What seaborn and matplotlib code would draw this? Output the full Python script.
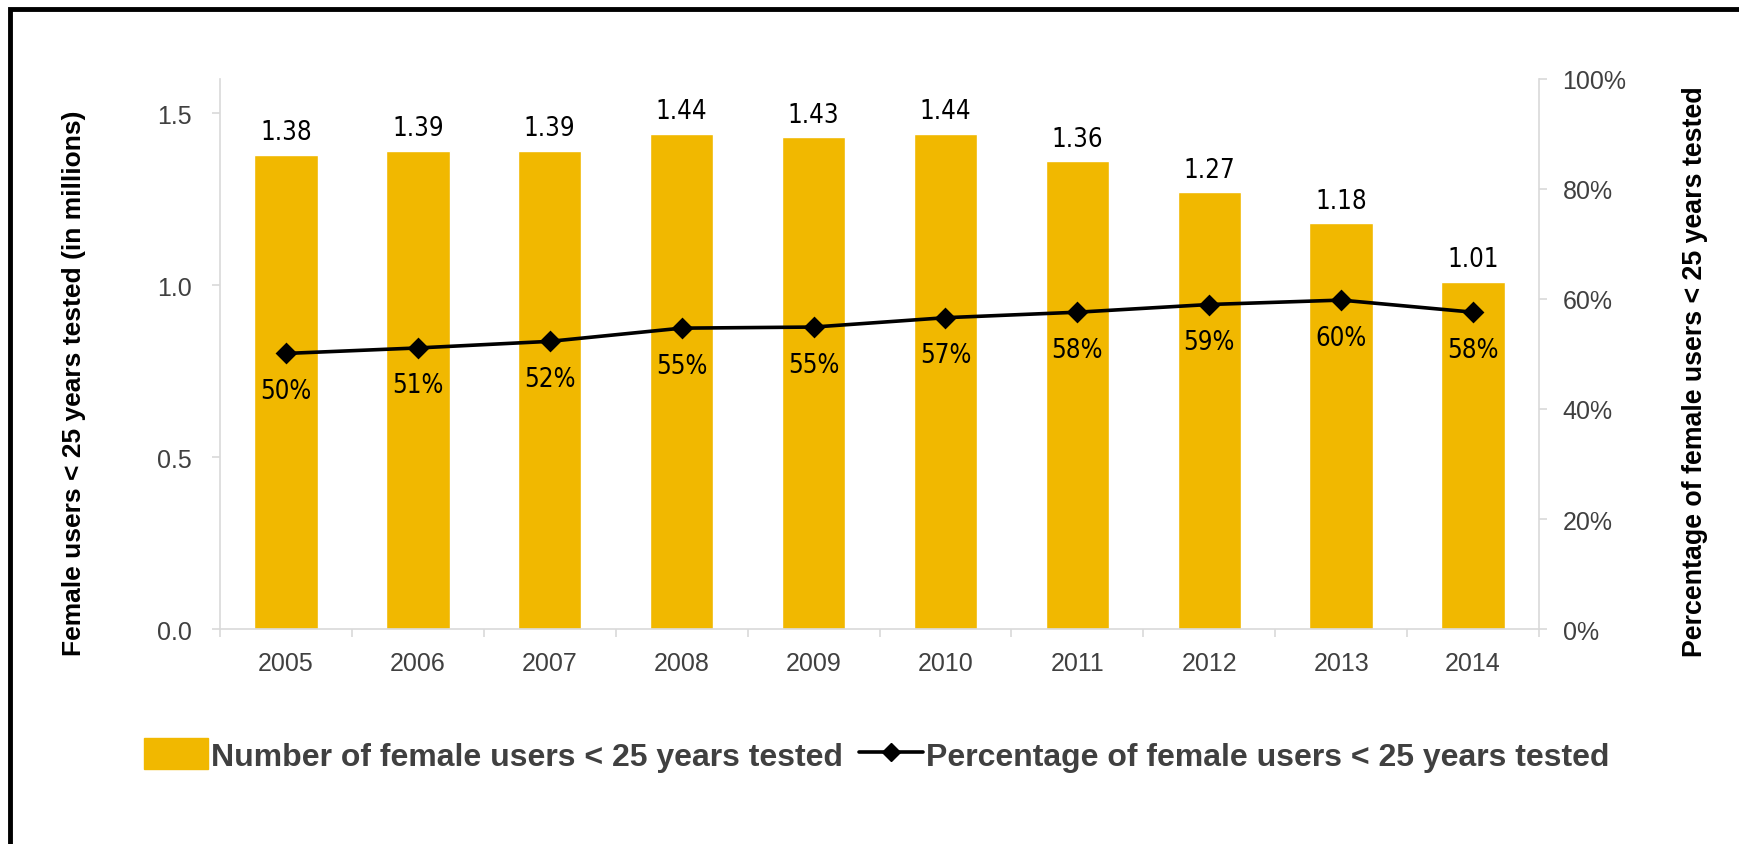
import numpy as np
import pandas as pd
import matplotlib
matplotlib.use("Agg")
import matplotlib.pyplot as plt
import seaborn as sns
from matplotlib.patches import Rectangle
from matplotlib.lines import Line2D
from matplotlib.patches import Patch

years = ["2005", "2006", "2007", "2008", "2009", "2010", "2011", "2012", "2013", "2014"]
users_millions = [1.38, 1.39, 1.39, 1.44, 1.43, 1.44, 1.36, 1.27, 1.18, 1.01]
pct_tested = [0.501, 0.511, 0.523, 0.547, 0.549, 0.566, 0.576, 0.590, 0.598, 0.576]
pct_labels = ["50%", "51%", "52%", "55%", "55%", "57%", "58%", "59%", "60%", "58%"]
left_ticks = [0.0, 0.5, 1.0, 1.5]
right_ticks = [0.0, 0.2, 0.4, 0.6, 0.8, 1.0]

bar_label = "Number of female users < 25 years tested"
line_label = "Percentage of female users < 25 years tested"

sns.set_theme(style="white")
plt.rcParams['font.family'] = ['Liberation Sans', 'DejaVu Sans']

BAR = "#F1B800"
GRID = "#D9D9D9"
TXT = "#404040"
COND = dict(family="DejaVu Sans", fontstretch="condensed")

fig = plt.figure(figsize=(17.40, 8.45), dpi=100)
ax = fig.add_axes([220/1740, 1-630/845, (1539-220)/1740, 550/845])

df = pd.DataFrame({"year": years, "users": users_millions, "pct": pct_tested})
sns.barplot(data=df, x="year", y="users", color=BAR, width=0.48, ax=ax,
            saturation=1, errorbar=None)
ax.set_ylim(0, 1.6)
ax.set_xlim(-0.5, len(years) - 0.5)
ax.set_yticks(left_ticks)
ax.set_yticklabels([f"{v:.1f}" for v in left_ticks])
for c in ax.containers:
    ax.bar_label(c, labels=[f"{v:.2f}" for v in users_millions], padding=7,
                 fontsize=18.5, color="black", **COND)

ax2 = ax.twinx()
sns.pointplot(data=df, x="year", y="pct", color="black", markers="D",
              linewidth=2.6, markersize=9, ax=ax2, errorbar=None)
ax2.set_ylim(0, 1.0)
ax2.set_xlim(-0.5, len(years) - 0.5)
ax2.set_yticks(right_ticks)
ax2.set_yticklabels([f"{int(round(v*100))}%" for v in right_ticks])
for i, (v, lab) in enumerate(zip(pct_tested, pct_labels)):
    ax2.annotate(lab, (i, v), xytext=(0, -27), textcoords="offset points",
                 ha="center", va="center", fontsize=18.5, color="black", **COND)

for a in (ax, ax2):
    for s in a.spines.values():
        s.set_visible(False)
    a.set_xlabel("")
    a.set_ylabel("")
    a.grid(False)

ax.spines["left"].set_visible(True)
ax.spines["left"].set_color(GRID)
ax.spines["bottom"].set_visible(True)
ax.spines["bottom"].set_color(GRID)
ax2.spines["right"].set_visible(True)
ax2.spines["right"].set_color(GRID)
for s in (ax.spines["left"], ax.spines["bottom"], ax2.spines["right"]):
    s.set_linewidth(1.2)

ax.tick_params(axis="y", left=True, length=6, width=1.2, color=GRID, labelsize=18,
               labelcolor=TXT, pad=14)
ax2.tick_params(axis="y", right=True, length=6, width=1.2, color=GRID, labelsize=18,
                labelcolor=TXT, pad=11)
ax.set_xticks(range(len(years)))
ax.set_xticklabels(years)
ax.set_xticks(np.arange(-0.5, len(years), 1.0), minor=True)
ax.tick_params(axis="x", which="major", bottom=True, length=0, labelsize=18,
               labelcolor=TXT, pad=16)
ax.tick_params(axis="x", which="minor", bottom=True, length=6, width=1.2, color=GRID)
ax2.tick_params(axis="x", which="both", bottom=False, top=False, labelbottom=False)

fig.text(74/1740, 1-383/845, "Female users < 25 years tested (in millions)",
         rotation=90, ha="center", va="center", fontsize=19, fontweight="bold",
         color="black")
fig.text(1695/1740, 1-372/845, line_label,
         rotation=90, ha="center", va="center", fontsize=19.3, fontweight="bold",
         color="black")

handles = [Patch(facecolor=BAR, edgecolor=BAR, label=bar_label),
           Line2D([0], [0], color="black", lw=2.6, marker="D", markersize=9,
                  label=line_label)]
leg = fig.legend(handles=handles, loc="center", bbox_to_anchor=(877/1740, 1-756/845),
                 ncol=2, frameon=False, fontsize=23, handlelength=2.0,
                 handleheight=1.1, handletextpad=0.1, columnspacing=0.5)
for t in leg.get_texts():
    t.set_fontweight("bold")
    t.set_color(TXT)

fig.patches.append(Rectangle((10/1740, -0.1), 1.2, 1 - 10/845 + 0.1,
                             transform=fig.transFigure, fill=False,
                             edgecolor="black", linewidth=3.5, zorder=10))

fig.savefig("out.png", dpi=100, facecolor="white")
